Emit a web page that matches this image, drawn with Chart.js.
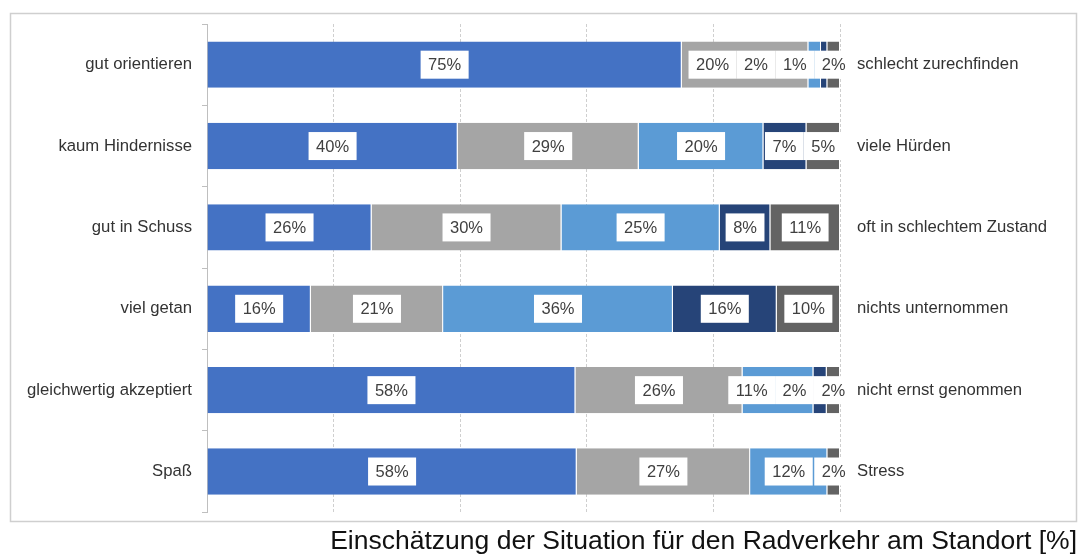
<!DOCTYPE html>
<html>
<head>
<meta charset="utf-8">
<script src="https://cdn.jsdelivr.net/npm/chart.js@4/dist/chart.umd.min.js"></script>
<style>
  html, body { margin: 0; padding: 0; background: #fff; }
  #wrap { position: relative; width: 1082px; height: 555px; }
</style>
</head>
<body>
<div id="wrap"><canvas id="chart"></canvas></div>
<script>
// Kategorien links (positiv) und rechts (negativ)
const categories = ['gut orientieren', 'kaum Hindernisse', 'gut in Schuss', 'viel getan', 'gleichwertig akzeptiert', 'Spaß'];
const oppositeLabels = ['schlecht zurechfinden', 'viele Hürden', 'oft in schlechtem Zustand', 'nichts unternommen', 'nicht ernst genommen', 'Stress'];

// Anteile in %, Stufe 1 (links) bis Stufe 5 (rechts)
const seriesNames = ['Stufe 1', 'Stufe 2', 'Stufe 3', 'Stufe 4', 'Stufe 5'];
const level1 = [75, 39.6, 26, 16.4, 58.2, 58.4];
const level2 = [20, 28.6, 30, 20.9, 26.4, 27.4];
const level3 = [2, 19.7, 25, 36.3, 11.2, 12.2];
const level4 = [1, 6.8, 8, 16.4, 2.1, 0];
const level5 = [2, 5.3, 11, 10.0, 2.1, 2.0];
const xTicks = [0, 20, 40, 60, 80, 100];

const seriesColors = ['#4472C4', '#A5A5A5', '#5B9BD5', '#264478', '#636363'];
const FONT = '"Liberation Sans", Arial, sans-serif';

// Rahmen um das Diagramm
const framePlugin = {
  id: 'frame',
  beforeDraw(chart) {
    const ctx = chart.ctx;
    ctx.save();
    ctx.strokeStyle = '#cfcfcf';
    ctx.lineWidth = 1.5;
    ctx.strokeRect(10.5, 13.5, 1066, 508);
    ctx.restore();
  }
};

// Datenbeschriftungen in weissen Kästchen, überlappende nach links schieben
const boxLabels = {
  id: 'boxLabels',
  afterDatasetsDraw(chart) {
    const ctx = chart.ctx;
    ctx.save();
    ctx.font = '16.5px ' + FONT;
    ctx.textAlign = 'center';
    ctx.textBaseline = 'middle';
    categories.forEach((c, i) => {
      const boxes = [];
      chart.data.datasets.forEach((ds, d) => {
        const v = ds.data[i];
        if (!v) return;
        const el = chart.getDatasetMeta(d).data[i];
        const text = Math.round(v) + '%';
        boxes.push({ text, w: ctx.measureText(text).width + 15, cx: (el.base + el.x) / 2, y: el.y });
      });
      for (let k = boxes.length - 2; k >= 0; k--) {
        const maxCx = boxes[k + 1].cx - boxes[k + 1].w / 2 - boxes[k].w / 2;
        if (boxes[k].cx > maxCx) boxes[k].cx = maxCx;
      }
      boxes.forEach(b => {
        ctx.fillStyle = '#fff';
        ctx.fillRect(b.cx - b.w / 2, b.y - 14, b.w, 28);
        ctx.fillStyle = '#404040';
        ctx.fillText(b.text, b.cx, b.y + 1);
      });
    });
    ctx.restore();
  }
};

const levels = [level1, level2, level3, level4, level5];

new Chart(document.getElementById('chart'), {
  type: 'bar',
  data: {
    labels: categories,
    datasets: levels.map((data, k) => ({
      label: seriesNames[k],
      data,
      backgroundColor: seriesColors[k],
      borderColor: '#fff',
      borderWidth: { right: 1 },
      borderSkipped: false,
      barPercentage: 0.57,
      categoryPercentage: 1.0
    }))
  },
  options: {
    indexAxis: 'y',
    responsive: true,
    maintainAspectRatio: false,
    animation: false,
    layout: { padding: { top: 24, right: 5, bottom: 0, left: 0 } },
    plugins: {
      legend: { display: false },
      tooltip: { enabled: false },
      title: {
        display: true,
        text: 'Einschätzung der Situation für den Radverkehr am Standort [%]',
        position: 'bottom',
        align: 'end',
        color: '#111',
        font: { family: FONT, size: 26.5, weight: 'normal', lineHeight: 1.2 },
        padding: { top: 14, bottom: -3 }
      }
    },
    scales: {
      x: {
        stacked: true,
        min: xTicks[0],
        max: xTicks[xTicks.length - 1],
        ticks: { display: false, stepSize: xTicks[1] - xTicks[0] },
        grid: { color: '#cfcfcf', drawTicks: false, lineWidth: 1 },
        border: { display: false, dash: [3, 2] }
      },
      y: {
        stacked: true,
        position: 'left',
        afterFit(scale) { scale.width = 207; },
        ticks: { color: '#333', font: { family: FONT, size: 16.7 }, padding: 10 },
        grid: { offset: true, drawOnChartArea: false, drawTicks: true, tickLength: 5, color: '#bfbfbf' },
        border: { display: true, color: '#bfbfbf' }
      },
      y2: {
        type: 'category',
        labels: oppositeLabels,
        position: 'right',
        offset: true,
        afterFit(scale) { scale.width = 237; },
        ticks: { color: '#333', font: { family: FONT, size: 16.7 }, padding: 9 },
        grid: { display: false },
        border: { display: false }
      }
    }
  },
  plugins: [framePlugin, boxLabels]
});
</script>
</body>
</html>
